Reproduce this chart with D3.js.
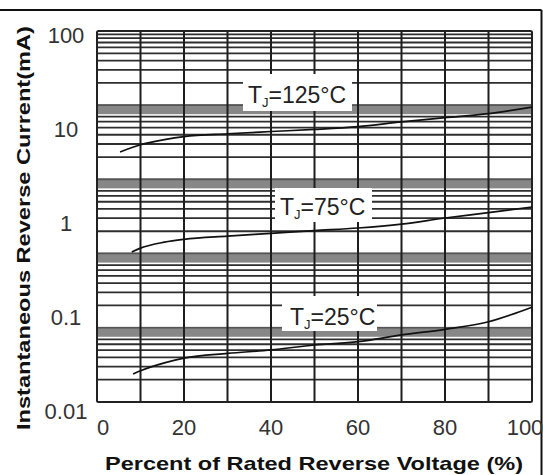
<!DOCTYPE html>
<html>
<head>
<meta charset="utf-8">
<script src="https://cdn.jsdelivr.net/npm/d3@7"></script>
<style>
  html, body { margin: 0; padding: 0; background: #fff; }
  svg { display: block; }
  text { font-family: "Liberation Sans", Arial, Helvetica, sans-serif; }
</style>
</head>
<body>
<svg id="chart" width="543" height="475"></svg>
<script>
// ---- data ----
const xTicks = [0, 20, 40, 60, 80, 100];
const xTickLabels = ["0", "20", "40", "60", "80", "100"];
const yTicks = [0.01, 0.1, 1, 10, 100];
const yTickLabels = ["0.01", "0.1", "1", "10", "100"];

const seriesNames = ["125", "75", "25"];
const pct125 = [5.3, 10, 15.5, 20, 30, 40, 50, 60, 70, 80, 90, 100];
const cur125 = [5.7, 6.8, 7.7, 8.3, 8.9, 9.4, 9.9, 10.6, 11.9, 13.2, 14.6, 17.1];
const pct75 = [8, 10, 15.5, 20, 30, 40, 50, 60, 70, 80, 90, 100];
const cur75 = [0.49, 0.54, 0.625, 0.67, 0.725, 0.775, 0.83, 0.885, 0.975, 1.13, 1.29, 1.48];
const pct25 = [8.3, 10, 15.5, 20, 30, 40, 50, 60, 70, 80, 90, 95, 100];
const cur25 = [0.0248, 0.0268, 0.0325, 0.0365, 0.041, 0.0446, 0.0504, 0.0546, 0.0644, 0.074, 0.0891, 0.105, 0.127];

const xTitle = "Percent of Rated Reverse Voltage (%)";
const yTitle = "Instantaneous Reverse Current(mA)";

// ---- layout ----
const plot = { left: 97, top: 31, right: 532, bottom: 402 };
const svg = d3.select("#chart");

const x = d3.scaleLinear().domain([0, 100]).range([plot.left, plot.right]);
// value scale used for curves and tick labels
const y = d3.scaleLog().domain([0.01, 100]).range([411, 35]);
// printed grid of the original sheet (5 log decades)
const yGrid = d3.scaleLog().domain([0.001, 100]).range([plot.bottom, plot.top]);

svg.append("rect").attr("width", 543).attr("height", 475).attr("fill", "#fff");

// outer frame (top and right edges visible)
svg.append("line").attr("x1", 0).attr("x2", 541.5).attr("y1", 10).attr("y2", 10)
  .attr("stroke", "#111").attr("stroke-width", 2);
svg.append("line").attr("x1", 541.5).attr("x2", 541.5).attr("y1", 10).attr("y2", 475)
  .attr("stroke", "#111").attr("stroke-width", 2);

const grid = svg.append("g");
// horizontal log grid
const hTicks = yGrid.ticks().filter(v => v > 0.001 && v < 100);
grid.selectAll("line.h").data(hTicks).join("line")
  .attr("class", "h")
  .attr("x1", plot.left).attr("x2", plot.right)
  .attr("y1", d => yGrid(d)).attr("y2", d => yGrid(d))
  .attr("stroke", "#2e2e2e").attr("stroke-width", 1.8);

// blurred decade bands of the scan
const decades = [0.01, 0.1, 1, 10];
grid.selectAll("rect.band").data(decades).join("rect")
  .attr("class", "band")
  .attr("x", plot.left).attr("width", plot.right - plot.left)
  .attr("y", d => yGrid(d) - 1).attr("height", 10)
  .attr("fill", "#878787");
grid.selectAll("line.bt").data(decades).join("line")
  .attr("class", "bt")
  .attr("x1", plot.left).attr("x2", plot.right)
  .attr("y1", d => yGrid(d)).attr("y2", d => yGrid(d))
  .attr("stroke", "#555").attr("stroke-width", 1.5);

// vertical grid
const vTicks = d3.range(10, 100, 10);
grid.selectAll("line.v").data(vTicks).join("line")
  .attr("class", "v")
  .attr("x1", d => x(d)).attr("x2", d => x(d))
  .attr("y1", plot.top).attr("y2", plot.bottom)
  .attr("stroke", "#1e1e1e").attr("stroke-width", 2);

// plot frame
svg.append("rect")
  .attr("x", plot.left).attr("y", plot.top)
  .attr("width", plot.right - plot.left).attr("height", plot.bottom - plot.top)
  .attr("fill", "none").attr("stroke", "#222").attr("stroke-width", 2).attr("rx", 1.5);

// curves
const series = [
  { name: seriesNames[0], pts: pct125.map((p, i) => [p, cur125[i]]) },
  { name: seriesNames[1], pts: pct75.map((p, i) => [p, cur75[i]]) },
  { name: seriesNames[2], pts: pct25.map((p, i) => [p, cur25[i]]) }
];
const line = d3.line().x(d => x(d[0])).y(d => y(d[1])).curve(d3.curveMonotoneX);
svg.append("g").selectAll("path").data(series).join("path")
  .attr("d", d => line(d.pts))
  .attr("fill", "none").attr("stroke", "#111").attr("stroke-width", 1.7);

// curve labels with white boxes
const labelLayout = [
  { tx: 248, ty: 103, bx: 243, by: 74, bw: 109, bh: 37 },
  { tx: 280, ty: 215, bx: 275, by: 188, bw: 97, bh: 34 },
  { tx: 290, ty: 325, bx: 282, by: 296, bw: 95, bh: 35 }
];
const lab = svg.append("g");
series.forEach((s, i) => {
  const L = labelLayout[i];
  lab.append("rect").attr("x", L.bx).attr("y", L.by).attr("width", L.bw).attr("height", L.bh)
    .attr("fill", "#fff");
  const t = lab.append("text").attr("x", L.tx).attr("y", L.ty)
    .attr("font-size", 23).attr("fill", "#222");
  t.append("tspan").text("T");
  t.append("tspan").attr("font-size", 13).attr("dy", 4).text("J");
  t.append("tspan").attr("dy", -4).text("=" + s.name + "°C");
});

// y tick labels
svg.append("g").selectAll("text").data(yTicks).join("text")
  .attr("x", 66).attr("y", d => y(d)).attr("dy", "0.36em")
  .attr("text-anchor", "middle").attr("font-size", 22).attr("fill", "#333")
  .text((d, i) => yTickLabels[i]);

// x tick labels
svg.append("g").selectAll("text").data(xTicks).join("text")
  .attr("x", d => x(d)).attr("y", 435)
  .attr("dx", d => d === 0 ? 6 : (d === 100 ? -7 : 0))
  .attr("text-anchor", "middle").attr("font-size", 22).attr("fill", "#333")
  .text((d, i) => xTickLabels[i]);

// axis titles
svg.append("text")
  .attr("x", 314).attr("y", 470)
  .attr("text-anchor", "middle").attr("font-size", 19).attr("font-weight", "bold")
  .attr("fill", "#111")
  .attr("textLength", 418).attr("lengthAdjust", "spacingAndGlyphs")
  .text(xTitle);

svg.append("text")
  .attr("transform", "translate(30,228) rotate(-90)")
  .attr("text-anchor", "middle").attr("font-size", 19).attr("font-weight", "bold")
  .attr("fill", "#111")
  .attr("textLength", 404).attr("lengthAdjust", "spacingAndGlyphs")
  .text(yTitle);
</script>
</body>
</html>
